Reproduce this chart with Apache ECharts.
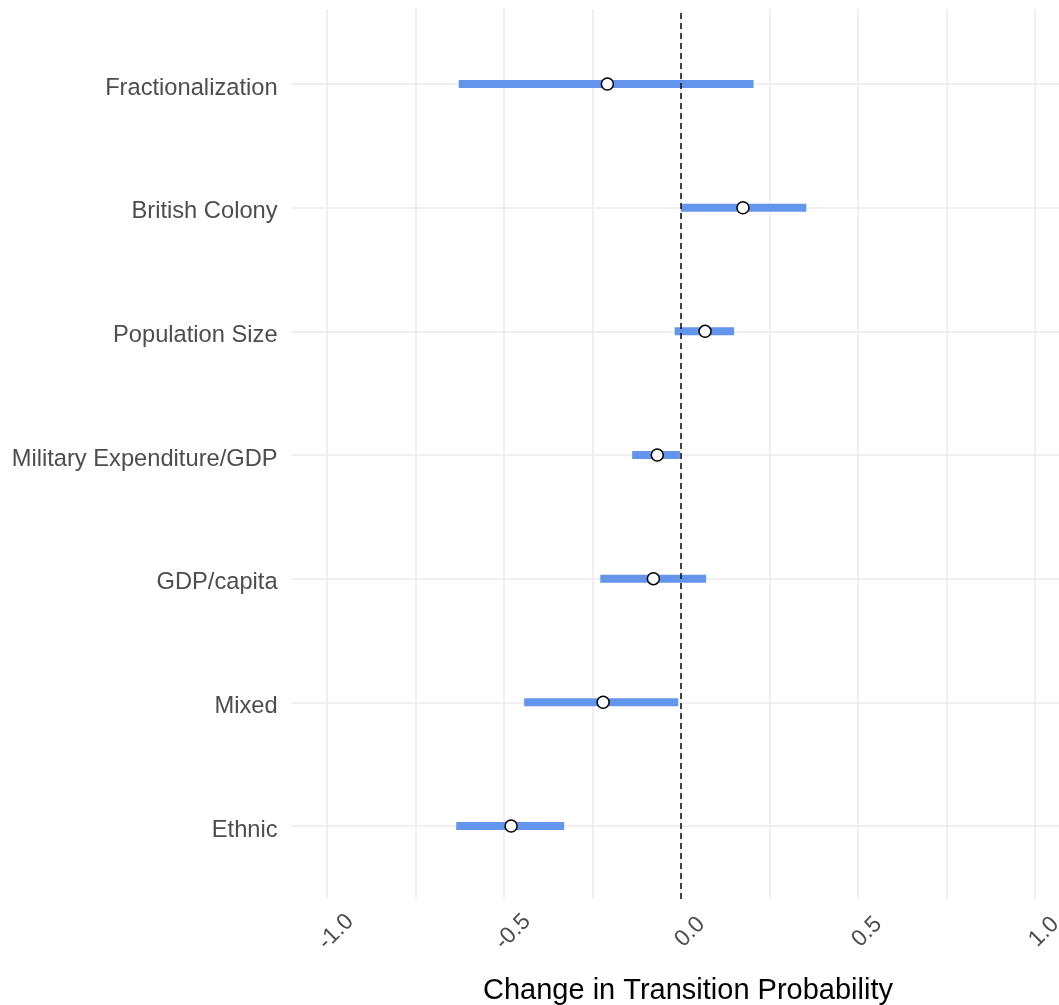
<!DOCTYPE html>
<html>
<head>
<meta charset="utf-8">
<script src="https://cdn.jsdelivr.net/npm/echarts@6/dist/echarts.min.js"></script>
<style>
  html, body { margin: 0; padding: 0; background: #ffffff; }
  #chart { width: 1059px; height: 1005px; }
</style>
</head>
<body>
<div id="chart"></div>
<script>
// Predictors, top to bottom
const categories = [
  'Fractionalization',
  'British Colony',
  'Population Size',
  'Military Expenditure/GDP',
  'GDP/capita',
  'Mixed',
  'Ethnic'
];
// Point estimates and interval bounds of the change in transition probability
const estimates = [-0.208, 0.175, 0.068, -0.067, -0.078, -0.220, -0.480];
const lower     = [-0.628, 0.000, -0.018, -0.138, -0.228, -0.443, -0.635];
const upper     = [ 0.205, 0.354,  0.150, -0.003,  0.071, -0.008, -0.330];
// Labelled ticks on the x axis
const xTickLabels = [-1.0, -0.5, 0.0, 0.5, 1.0];

const FONT = '"Liberation Sans", Arial, sans-serif';
const GREY_TEXT = '#4d4d4d';
const GRID_COLOR = '#ebebeb';

// Layout of the panel: the labelled range [-1, 1] and the padded data range
const W = 1059;
const AXIS_LEFT = 327, AXIS_RIGHT = 24;
const PX_PER_UNIT = (W - AXIS_LEFT - AXIS_RIGHT) / 2;
const ZERO_X = AXIS_LEFT + PX_PER_UNIT;
const PAD_MIN = -1.1;
const PANEL_LEFT = ZERO_X + PAD_MIN * PX_PER_UNIT;
const PAD_MAX = PAD_MIN + (W - PANEL_LEFT) / PX_PER_UNIT;

const intervals = categories.map((c, i) => [lower[i], upper[i], c]);
const points = categories.map((c, i) => [estimates[i], c]);

const chart = echarts.init(document.getElementById('chart'), null, { renderer: 'canvas' });

chart.setOption({
  backgroundColor: '#ffffff',
  animation: false,
  grid: [
    // vertical grid, tick labels and the zero reference line
    { left: AXIS_LEFT, right: AXIS_RIGHT, top: 9, bottom: 106, containLabel: false, outerBoundsMode: 'none' },
    // categories and interval marks
    { left: PANEL_LEFT, right: 0, top: 22.2, bottom: 117.2, containLabel: false, outerBoundsMode: 'none' }
  ],
  xAxis: [
    {
      gridIndex: 0,
      type: 'value',
      min: -1,
      max: 1,
      interval: 0.25,
      axisLine: { show: false },
      axisTick: { show: false },
      splitLine: { show: true, lineStyle: { color: GRID_COLOR, width: 1.5 } },
      axisLabel: {
        show: true,
        rotate: 45,
        align: 'center',
        verticalAlign: 'top',
        lineHeight: 25.4,
        margin: 24,
        hideOverlap: false,
        color: GREY_TEXT,
        fontFamily: FONT,
        fontSize: 23,
        formatter: function (v) {
          const hit = xTickLabels.find(t => Math.abs(t - v) < 1e-9);
          return hit === undefined ? '' : hit.toFixed(1);
        }
      },
      name: 'Change in Transition Probability',
      nameLocation: 'middle',
      nameGap: 77,
      nameMoveOverlap: false,
      nameTextStyle: {
        color: '#000000',
        fontFamily: FONT,
        fontSize: 29,
        padding: [0, 0, 0, 14]
      }
    },
    {
      gridIndex: 1,
      type: 'value',
      min: PAD_MIN,
      max: PAD_MAX,
      show: false
    }
  ],
  yAxis: [
    {
      gridIndex: 0,
      type: 'value',
      min: 0,
      max: 1,
      show: false
    },
    {
      gridIndex: 1,
      type: 'category',
      data: categories,
      inverse: true,
      axisLine: { show: false },
      axisTick: { show: false },
      splitLine: { show: false },
      axisLabel: {
        color: GREY_TEXT,
        fontFamily: FONT,
        fontSize: 23.7,
        margin: 14,
        verticalAlign: 'top',
        lineHeight: 8
      }
    }
  ],
  series: [
    {
      // horizontal grid lines at each category
      type: 'line',
      xAxisIndex: 1,
      yAxisIndex: 1,
      data: [],
      z: 1,
      silent: true,
      markLine: {
        z: 1,
        silent: true,
        symbol: ['none', 'none'],
        label: { show: false },
        lineStyle: { color: GRID_COLOR, width: 1.5, type: 'solid' },
        data: categories.map(c => ({ yAxis: c }))
      }
    },
    {
      // interval bars
      type: 'custom',
      xAxisIndex: 1,
      yAxisIndex: 1,
      z: 2,
      encode: { x: [0, 1], y: 2 },
      data: intervals,
      renderItem: function (params, api) {
        const cat = api.value(2);
        const a = api.coord([api.value(0), cat]);
        const b = api.coord([api.value(1), cat]);
        const h = 8;
        return {
          type: 'rect',
          shape: { x: a[0], y: a[1] - h / 2, width: b[0] - a[0], height: h },
          style: { fill: '#6495ED' }
        };
      }
    },
    {
      // dashed zero reference line
      type: 'line',
      xAxisIndex: 0,
      yAxisIndex: 0,
      data: [],
      z: 3,
      silent: true,
      markLine: {
        z: 3,
        silent: true,
        symbol: ['none', 'none'],
        label: { show: false },
        lineStyle: { color: '#1a1a1a', width: 1.6, type: [6, 4] },
        data: [{ xAxis: 0 }]
      }
    },
    {
      // point estimates
      type: 'scatter',
      xAxisIndex: 1,
      yAxisIndex: 1,
      z: 4,
      symbol: 'circle',
      symbolSize: 12,
      itemStyle: { color: '#ffffff', borderColor: '#000000', borderWidth: 1.5, opacity: 1 },
      data: points
    }
  ]
});
</script>
</body>
</html>
